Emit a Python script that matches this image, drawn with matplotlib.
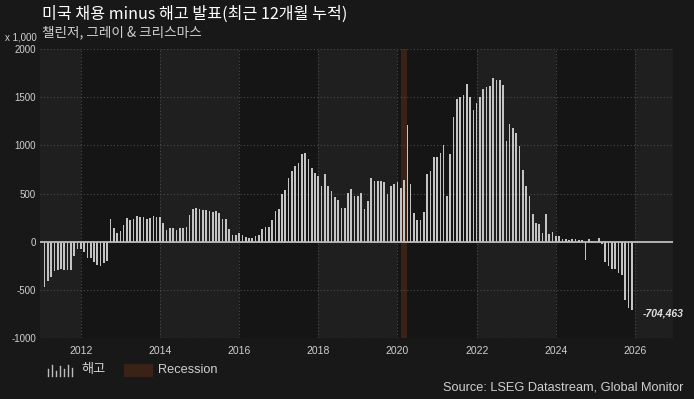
import numpy as np
import pandas as pd
import matplotlib
matplotlib.use("Agg")
import matplotlib.pyplot as plt
from matplotlib.patches import Rectangle
from matplotlib.lines import Line2D

plt.rcParams['font.family'] = ['Liberation Sans', 'Noto Sans CJK KR', 'DejaVu Sans']

# monthly values, thousands, Feb 2011 .. Dec 2025
vals_2011 = [-473, -410, -369, -304, -293, -280, -297, -297, -297, -152, -76]
vals_2012 = [-76, -110, -172, -172, -214, -245, -255, -217, -204, 231, 141, 93]
vals_2013 = [107, 176, 248, 228, 231, 266, 255, 255, 231, 245, 269, 255]
vals_2014 = [259, 193, 124, 141, 141, 124, 141, 141, 148, 279, 338, 348]
vals_2015 = [338, 328, 331, 321, 307, 321, 300, 238, 238, 135, 72, 72]
vals_2016 = [93, 66, 52, 41, 41, 59, 66, 135, 148, 148, 224, 321]
vals_2017 = [338, 493, 538, 662, 735, 787, 814, 907, 918, 859, 766, 711]
vals_2018 = [683, 583, 704, 576, 528, 466, 431, 348, 348, 504, 549, 476]
vals_2019 = [476, 504, 342, 424, 662, 631, 628, 628, 618, 500, 580, 597]
vals_2020 = [618, 555, 642, 1211, 600, 297, 228, 228, 304, 704, 735, 883]
vals_2021 = [883, 925, 1004, 469, 911, 1297, 1477, 1497, 1521, 1635, 1497, 1366]
vals_2022 = [1439, 1504, 1584, 1601, 1618, 1704, 1677, 1677, 1622, 1049, 1221, 1180]
vals_2023 = [1128, 994, 745, 580, 476, 290, 193, 186, 90, 290, 83, 104]
vals_2024 = [62, 55, 28, 31, 21, 31, 31, 21, 17, -192, 24, 10]
vals_2025 = [10, 41, -27, -212, -253, -284, -287, -328, -345, -608, -691, -704.463]

values = np.array(vals_2011 + vals_2012 + vals_2013 + vals_2014 + vals_2015 + vals_2016
                  + vals_2017 + vals_2018 + vals_2019 + vals_2020 + vals_2021 + vals_2022
                  + vals_2023 + vals_2024 + vals_2025)
dates = pd.date_range("2011-02-01", periods=len(values), freq="MS")
xs = dates.year + (dates.month - 1) / 12.0

recession = (2020 + 1 / 12.0, 2020 + 3 / 12.0)
year_ticks = list(range(2012, 2027, 2))
y_ticks = [-1000, -500, 0, 500, 1000, 1500, 2000]

title = "미국 채용 minus 해고 발표(최근 12개월 누적)"
subtitle = "챌린저, 그레이 & 크리스마스"
source = "Source: LSEG Datastream, Global Monitor"
last_label = "-704,463"

BG = '#181818'
LIGHT = '#1f1f1f'
DARK = '#151515'
TXT = '#d0d0d0'
CJK = ['Noto Sans CJK KR', 'DejaVu Sans']

fig = plt.figure(figsize=(6.94, 3.99), dpi=100, facecolor=BG)
ax = fig.add_axes([40 / 694, 1 - 338 / 399, 633 / 694, 289 / 399])
ax.set_facecolor(LIGHT)
x0, x1 = 2010.97, 2026.96
ax.set_xlim(x0, x1)
ax.set_ylim(-1000, 2000)

# alternating two-year bands
for y in range(2012, 2027, 4):
    ax.axvspan(y, y + 2, color=DARK, lw=0, zorder=0)

ax.axvspan(recession[0], recession[1], color='#3a2216', lw=0, zorder=1)

for yv in y_ticks:
    ax.axhline(yv, color='#4a4a4a', lw=0.8, ls=(0, (1, 2)), zorder=1)
for xv in year_ticks:
    ax.axvline(xv, color='#4a4a4a', lw=0.8, ls=(0, (1, 2)), zorder=1)

ax.bar(xs, values, width=0.042, color='#c4c4c4', lw=0, zorder=2)
ax.axhline(0, color='#bdbdbd', lw=1.3, zorder=3)

ax.annotate(last_label, (xs[-1], values[-1]), xytext=(8, -3), textcoords='offset points',
            ha='left', va='center', color='#e0e0e0', fontsize=7.5, style='italic',
            fontweight='bold')

for s in ax.spines.values():
    s.set_visible(False)
ax.set_xticks(year_ticks)
ax.set_yticks(y_ticks)
ax.set_xticklabels([str(y) for y in year_ticks])
ax.set_yticklabels([str(v) for v in y_ticks])
ax.tick_params(length=0, colors=TXT, labelsize=7)
ax.tick_params(axis='x', pad=6, labelsize=7.5)
ax.tick_params(axis='y', pad=3)

fig.text(37 / 694, 1 - 38 / 399, "x 1,000", ha='right', va='center', color=TXT, fontsize=7)
fig.text(42 / 694, 1 - 14 / 399, title, ha='left', va='center', color='white',
         fontsize=11.6, family=CJK)
fig.text(42 / 694, 1 - 32 / 399, subtitle, ha='left', va='center', color=TXT,
         fontsize=9.8, family=CJK)

# legend
icon_h = [0.6, 1.0, 0.5, 0.9, 0.6, 1.0, 0.7]
for i, h in enumerate(icon_h):
    fx = (48 + i * 4) / 694
    fig.add_artist(Line2D([fx, fx], [1 - 376 / 399, 1 - (376 - 11 * h) / 399],
                          color='#bdbdbd', lw=1.0))
fig.text(81 / 694, 1 - 370 / 399, "해고", ha='left', va='center', color=TXT,
         fontsize=9.5, family=CJK)
fig.add_artist(Rectangle((124 / 694, 1 - 377 / 399), 29 / 694, 13 / 399,
                         color='#3a2216', lw=0))
fig.text(158 / 694, 1 - 370 / 399, "Recession", ha='left', va='center', color=TXT,
         fontsize=9.2)
fig.text(683 / 694, 1 - 387 / 399, source, ha='right', va='center', color=TXT,
         fontsize=9.2)

fig.savefig("out.png", dpi=100, facecolor=BG)
